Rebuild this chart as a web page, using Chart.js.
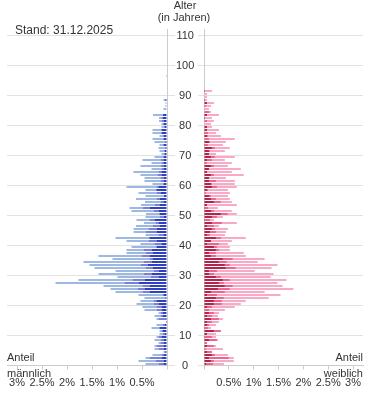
<!DOCTYPE html>
<html lang="de">
<head>
<meta charset="utf-8">
<title>Alterspyramide</title>
<script src="https://cdn.jsdelivr.net/npm/chart.js@4.4.1/dist/chart.umd.min.js"></script>
<style>
  html, body { margin: 0; padding: 0; background: #fff; }
  #wrap { position: relative; width: 375px; height: 416px; overflow: hidden;
          font-family: "Liberation Sans", Arial, sans-serif; color: #333; }
  canvas { position: absolute; top: 0; }
  #maleChart { left: 0; }
  #femaleChart { left: 197px; }
  .lbl { position: absolute; font-size: 11px; line-height: 13px; white-space: nowrap; }
</style>
</head>
<body>
<div id="wrap">
  <canvas id="maleChart" width="197" height="416"></canvas>
  <canvas id="femaleChart" width="178" height="416"></canvas>

  <div class="lbl" style="left:145px; width:80px; top:-1px; text-align:center">Alter</div>
  <div class="lbl" style="left:144px; width:80px; top:11px; text-align:center">(in Jahren)</div>
  <div class="lbl" style="left:15px; top:23px; font-size:12px; line-height:14px">Stand: 31.12.2025</div>

  <div class="lbl" style="left:7px; top:351px">Anteil</div>
  <div class="lbl" style="left:7px; top:367px">männlich</div>
  <div class="lbl" style="right:12px; top:351px; text-align:right">Anteil</div>
  <div class="lbl" style="right:12px; top:367px; text-align:right">weiblich</div>
</div>

<script>
// ==============================
// DATA (share of population in %, one value per age 0..110)
// ==============================
const AGES = Array.from({ length: 111 }, (_, i) => i);
const AGE_TICKS = [0, 10, 20, 30, 40, 50, 60, 70, 80, 90, 100, 110];
const SHARE_TICKS = [0.5, 1, 1.5, 2, 2.5, 3];

// male: inner (dark), middle, outer (light) segment
const maleDark = [
  .07, .07, .11, .07, .03, .07, .07, .07, .07, .11,
  .05, .09, .15, .05, .02, .03, .09, .09, .11, .11,
  .17, .21, .03, .07, .35, .45, .35, .57, .45, .17,
  .31, .17, .29, .39, .31, .29, .35, .29, .31, .21,
  .11, .21, .35, .07, .21, .21, .15, .17, .25, .07,
  .15, .17, .35, .15, .07, .15, .06, .13, .21, .17,
  .07, .07, .07, .11, .11, .07, .07, .07, .07, .07,
  .05, .05, .03, .07, .03, .07, .07, .11, .11, .05,
  .07, .07, .08, .08, 0, 0, 0, 0, .03, 0,
  0, 0, 0, 0, 0, 0, 0, 0, 0, 0,
  0, 0, 0, 0, 0, 0, 0, 0, 0, 0, 0
];
const maleMid = [
  .10, .16, .24, .04, .02, .10, .14, .06, .06, .06,
  .04, .02, 0, .04, 0, .14, .04, .04, .10, .10,
  .10, .06, 0, .02, .14, .14, .14, .28, .24, .16,
  .16, .10, .14, .14, .16, .06, .16, .14, .16, 0,
  .14, .16, .02, .10, .21, .16, .13, .06, .10, .07,
  0, .10, .14, .09, .06, .06, 0, .08, .02, .04,
  0, .06, .06, .08, .06, .04, .06, .04, .06, 0,
  0, 0, 0, 0, 0, 0, 0, 0, 0, 0,
  0, .04, .03, 0, 0, 0, 0, 0, 0, 0,
  0, 0, 0, 0, 0, 0, 0, 0, 0, 0,
  0, 0, 0, 0, 0, 0, 0, 0, 0, 0, 0
];
const maleLight = [
  .26, .34, .08, .18, .02, .08, .04, .04, .12, .04,
  .06, .04, .16, .12, 0, .04, .12, .04, .24, .28,
  .34, .26, .42, .48, .54, .54, .78, 1.38, 1.08, .66,
  .90, .76, 1.02, 1.02, 1.20, .74, .86, .38, .34, .50,
  .28, .44, .66, .26, .25, .30, .34, .23, .26, .29,
  .27, .44, .26, .28, .31, .41, .37, .36, .20, .60,
  .22, .32, .32, .34, .50, .20, .40, .20, .36, .18,
  .06, .10, .14, .08, .22, .22, .08, .18, .18, .06,
  .04, .05, .05, .20, 0, .07, .03, .03, .04, 0,
  0, 0, 0, 0, 0, 0, .02, 0, 0, 0,
  0, 0, 0, 0, 0, 0, 0, 0, 0, 0, 0
];

// female: inner (dark), middle, outer (light) segment
const femaleDark = [
  .04, .14, .10, .16, .06, 0, .06, 0, .10, .02,
  .06, .20, .02, .06, .06, .14, .06, .10, 0, .06,
  .20, .20, .24, .06, .14, .28, .42, .30, .38, .24,
  .10, .10, .44, .42, .30, .38, .14, .10, .24, .20,
  .06, .14, .24, .06, .12, .16, .06, .16, .02, .16,
  .34, .14, .02, .06, .20, .14, .10, 0, .06, .16,
  .14, .10, .10, .14, .06, .10, .14, 0, .06, .14,
  .10, .10, .16, .02, .10, 0, .06, .02, .06, .06,
  0, 0, .02, .06, 0, 0, 0, .06, .02, 0,
  0, .02, 0, 0, 0, 0, 0, 0, 0, 0,
  0, 0, 0, 0, 0, 0, 0, 0, 0, 0, 0
];
const femaleMid = [
  .14, .06, .40, .06, .10, .04, .14, .06, .16, .14,
  0, .14, .06, .04, .10, .16, .10, .10, .10, .10,
  .16, .16, .16, .20, .28, .24, .16, .10, .14, .10,
  .10, .16, .20, .10, .16, .20, .10, .14, .06, .06,
  .24, 0, .10, .06, .12, .06, .14, .20, .10, .10,
  .14, .06, .06, 0, .14, .10, .04, .04, .02, .10,
  .02, .14, 0, .06, 0, 0, .06, .06, .10, .08,
  0, .02, .06, .06, .02, .10, .02, .06, 0, 0,
  0, .06, 0, 0, .10, 0, .04, 0, 0, 0,
  0, 0, 0, 0, 0, 0, 0, 0, 0, 0,
  0, 0, 0, 0, 0, 0, 0, 0, 0, 0, 0
];
const femaleLight = [
  .22, .40, .10, .26, 0, .34, .04, 0, .02, .08,
  .18, 0, .06, .14, .14, .08, .12, .10, .32, .46,
  .38, .48, .90, 1.28, .80, 1.28, 1.00, 1.08, 1.14, 1.00,
  1.20, .76, .72, .96, .62, .64, .60, .56, .22, .26,
  .18, .42, .50, .30, .20, .26, .10, .30, .08, .12,
  .18, .36, .20, .60, .22, .28, .34, .48, .40, .40,
  .46, .38, .34, .60, .50, .64, .28, .50, .26, .40,
  .14, .30, .30, .30, .32, .52, .26, .16, .24, .10,
  .14, .14, .14, .24, .04, .10, .10, .14, .04, .06,
  .06, .14, .02, .02, 0, 0, 0, .02, 0, 0,
  0, 0, 0, 0, 0, 0, 0, 0, 0, 0, 0
];

const MALE_COLORS = ["#2f40c0", "#7b80d6", "#9db8e2"];
const FEMALE_COLORS = ["#b3244c", "#ef648c", "#f9a8c5"];


// ==============================
// HELPERS
// ==============================
Chart.defaults.font.family = '"Liberation Sans", Arial, sans-serif';
Chart.defaults.font.size = 11;
Chart.defaults.color = "#333";

// each bar sits in the middle of its one-year band
function toPoints(values) {
  return values.map((v, i) => ({ x: v, y: AGES[i] + 0.5 }));
}

function makeDatasets(series, colors) {
  return series.map((values, i) => ({
    data: toPoints(values),
    backgroundColor: colors[i],
    borderWidth: 0,
    borderSkipped: false,
    barThickness: 2,
    inflateAmount: 0
  }));
}

function makeOptions(isMale) {
  return {
    indexAxis: "y",
    responsive: false,
    animation: false,
    events: [],
    layout: { padding: isMale ? { top: 29.5, left: 7, right: 0 } : { top: 29.5, left: 0, right: 12 } },
    plugins: { legend: { display: false }, tooltip: { enabled: false } },
    scales: {
      x: {
        type: "linear",
        reverse: isMale,
        min: 0,
        max: 3.2,
        stacked: true,
        afterFit: s => { s.height = 50.5; },
        afterBuildTicks: s => { s.ticks = [0, ...SHARE_TICKS].map(v => ({ value: v })); },
        grid: { drawOnChartArea: false, tickLength: 4, color: "#cccccc" },
        border: { color: "#cccccc" },
        ticks: {
          padding: 7,
          maxRotation: 0,
          autoSkip: false,
          color: "#333",
          callback: v => (v === 0 ? "" : v + "%")
        }
      },
      y: {
        type: "linear",
        position: isMale ? "right" : "left",
        min: 0,
        max: 112,
        offset: false,
        stacked: true,
        afterFit: s => { s.width = isMale ? 30 : 6; },
        afterBuildTicks: s => { s.ticks = AGE_TICKS.map(v => ({ value: v })); },
        grid: { color: "#e2e2e2", tickLength: isMale ? 8 : 6, offset: false },
        border: { color: "#cccccc" },
        ticks: {
          display: isMale,
          crossAlign: "center",
          padding: 1,
          color: "#333"
        }
      }
    }
  };
}


// ==============================
// CHARTS
// ==============================
new Chart(document.getElementById("maleChart"), {
  type: "bar",
  data: { datasets: makeDatasets([maleDark, maleMid, maleLight], MALE_COLORS) },
  options: makeOptions(true)
});

new Chart(document.getElementById("femaleChart"), {
  type: "bar",
  data: { datasets: makeDatasets([femaleDark, femaleMid, femaleLight], FEMALE_COLORS) },
  options: makeOptions(false)
});
</script>
</body>
</html>
